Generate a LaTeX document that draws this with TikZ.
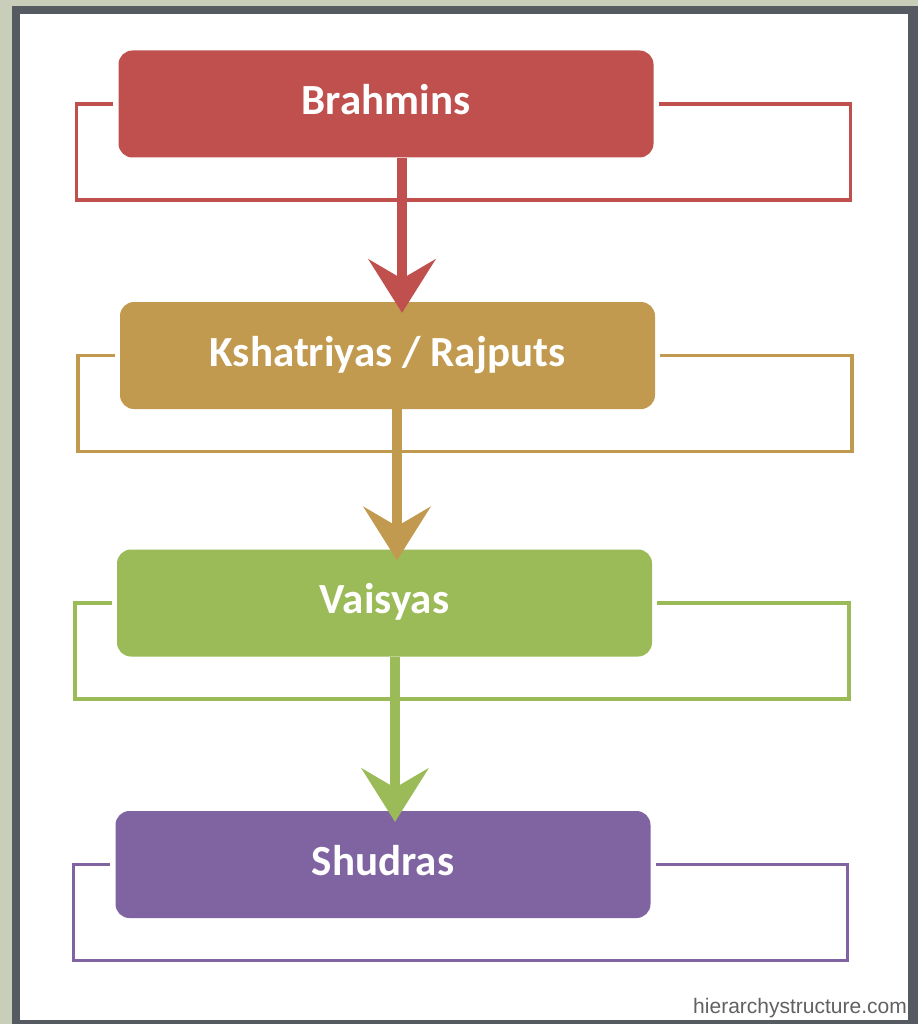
\documentclass[tikz,border=0pt]{standalone}
\usepackage{fontspec}
\setmainfont{Carlito}
\newfontfamily\webfont{Liberation Sans}
\usetikzlibrary{positioning,arrows.meta,calc}
\definecolor{brahred}{HTML}{C0504D}
\definecolor{kshatan}{HTML}{C19A50}
\definecolor{vaisgreen}{HTML}{9BBB59}
\definecolor{shudpurple}{HTML}{8064A2}
\definecolor{framegray}{HTML}{555B61}
\definecolor{pagegreen}{HTML}{C9CEBA}

\begin{document}
\begin{tikzpicture}[x=1pt, y=-1pt,
  caste/.style={rounded corners=14pt, minimum width=535pt, minimum height=107pt,
    inner sep=0pt, text=white, font=\fontsize{43}{50}\selectfont\bfseries,
    text height=28pt, text depth=7pt},
  bracket/.style={line width=3.5pt},
  down/.style={line width=10pt, shorten >=-11pt,
    -{Stealth[length=54pt, width=68pt, inset=20pt, line width=0pt]}}]
  % frame
  \fill[pagegreen] (0,0) rectangle (918,1024);
  \fill[framegray] (12,6) rectangle (918,1024);
  \fill[white] (20,14) rectangle (908,1020);
  % caste boxes
  \foreach \n/\x/\y/\c/\t in {c1/386/104/brahred/Brahmins,
    c2/387.5/355.5/kshatan/{Kshatriyas / Rajputs},
    c3/384.5/603/vaisgreen/Vaisyas, c4/383/864.5/shudpurple/Shudras}{
    \node[caste, fill=\c] (\n) at (\x,\y) {\t};}
  % brackets
  \foreach \n/\c in {c1/brahred, c2/kshatan, c3/vaisgreen, c4/shudpurple}{
    \draw[bracket, \c] ($(\n.west)+(-5,0)$) -- ++(-37,0) -- ++(0,96)
      -- ($(\n.east)+(197,96)$) -- ++(0,-96) -- ($(\n.east)+(5,0)$);}
  % arrows
  \foreach \a/\b/\c/\s/\t in {c1/c2/brahred/16/14.5, c2/c3/kshatan/9.5/12.5,
    c3/c4/vaisgreen/10.5/12}{
    \draw[down, \c] ([xshift=\s pt]\a.south) -- ([xshift=\t pt]\b.north);}
  \node[font=\webfont\fontsize{21}{24}\selectfont, text=black!62,
    anchor=base east, inner sep=0pt] (site) at (907,1013)
    {hierarchystructure.com};
\end{tikzpicture}
\end{document}
